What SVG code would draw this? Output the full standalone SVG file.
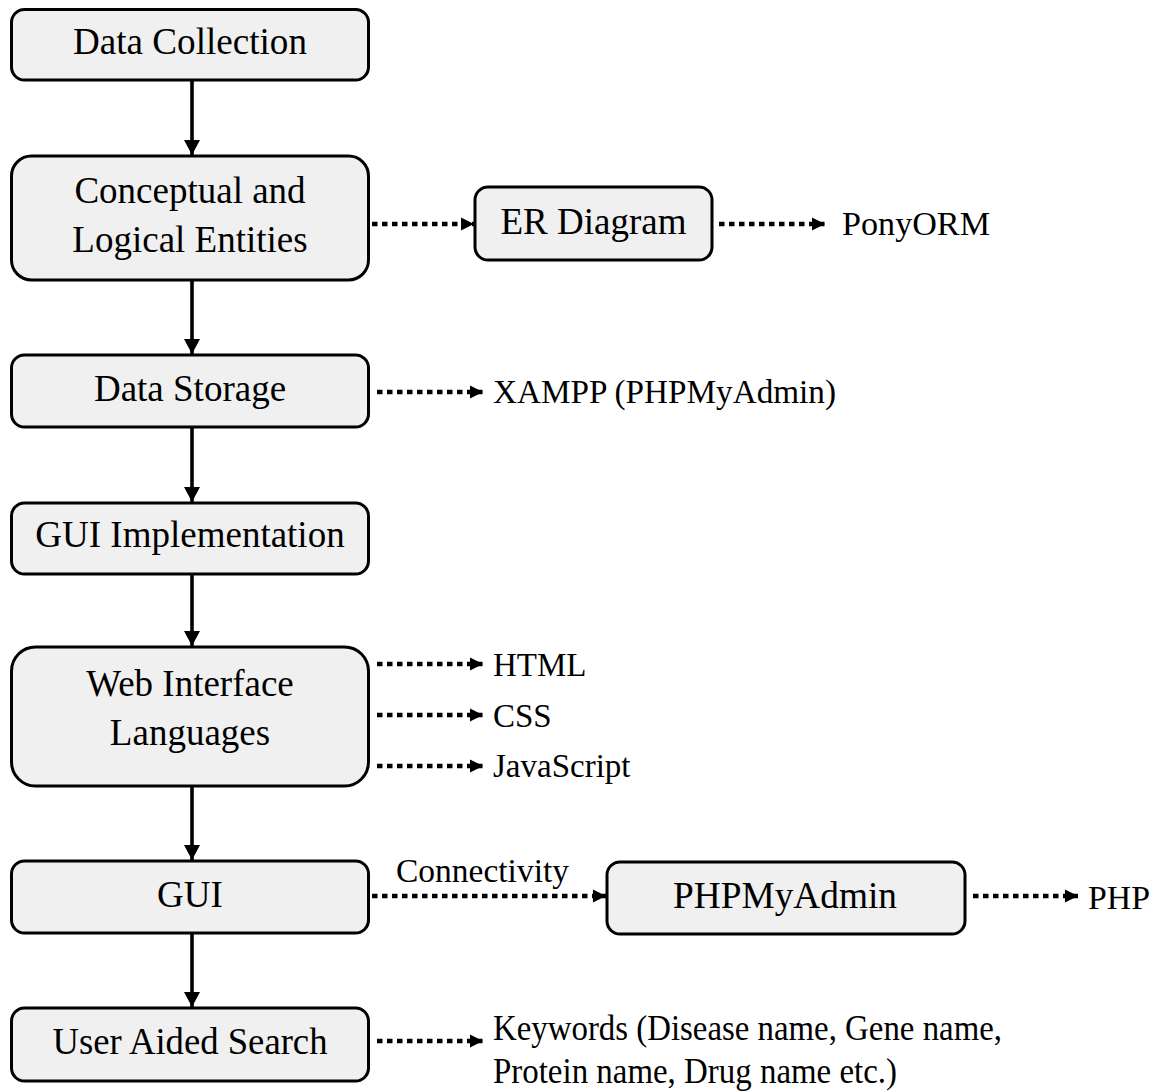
<svg xmlns="http://www.w3.org/2000/svg" width="1158" height="1091" viewBox="0 0 1158 1091">
  <style>
    .box { fill: #f0f0f0; stroke: #000; stroke-width: 3; }
    .t { font-family: "Liberation Serif", "Times New Roman", serif; fill: #000; }
    .bt { font-size: 37px; text-anchor: middle; }
    .st { font-size: 33px; }
    .solid { stroke: #000; stroke-width: 3.6; fill: none; marker-end: url(#headSolid); }
    .dot { stroke: #000; stroke-width: 4.6; stroke-dasharray: 5.5 4.5; fill: none; marker-end: url(#headDot); }
  </style>
  <defs>
    <marker id="headSolid" markerUnits="userSpaceOnUse" markerWidth="17" markerHeight="18" refX="15" refY="9" orient="auto">
      <path d="M0,1 L15,9 L0,17 z" fill="#000"/>
    </marker>
    <marker id="headDot" markerUnits="userSpaceOnUse" markerWidth="15" markerHeight="16" refX="13" refY="8" orient="auto">
      <path d="M0,1.5 L13,8 L0,14.5 z" fill="#000"/>
    </marker>
  </defs>

  <rect width="1158" height="1091" fill="#fff"/>

  <!-- connectors -->
  <g id="connectors">
    <line class="solid" x1="192" y1="81" x2="192" y2="155"/>
    <line class="solid" x1="192" y1="281" x2="192" y2="354"/>
    <line class="solid" x1="192" y1="428" x2="192" y2="502"/>
    <line class="solid" x1="192" y1="575" x2="192" y2="646"/>
    <line class="solid" x1="192" y1="787" x2="192" y2="860"/>
    <line class="solid" x1="192" y1="934" x2="192" y2="1007"/>

    <line class="dot" x1="372" y1="224" x2="474" y2="224"/>
    <line class="dot" x1="719" y1="224" x2="825" y2="224"/>
    <line class="dot" x1="377" y1="392" x2="483" y2="392"/>
    <line class="dot" x1="377" y1="664" x2="483" y2="664"/>
    <line class="dot" x1="377" y1="715" x2="483" y2="715"/>
    <line class="dot" x1="377" y1="766" x2="483" y2="766"/>
    <line class="dot" x1="372" y1="896" x2="606" y2="896"/>
    <line class="dot" x1="973" y1="896" x2="1078" y2="896"/>
    <line class="dot" x1="377" y1="1041" x2="483" y2="1041"/>
    <text class="t st" x="396" y="882" textLength="173" lengthAdjust="spacingAndGlyphs">Connectivity</text>
  </g>

  <g id="data-collection">
    <rect class="box" x="11.5" y="9.5" width="357" height="70.5" rx="13"/>
    <text class="t bt" x="190" y="54" textLength="234" lengthAdjust="spacingAndGlyphs">Data Collection</text>
  </g>

  <g id="conceptual-logical">
    <rect class="box" x="11.5" y="156" width="357" height="124" rx="20"/>
    <text class="t bt" x="190" y="203">Conceptual and</text>
    <text class="t bt" x="190" y="252">Logical Entities</text>
  </g>

  <g id="er-diagram">
    <rect class="box" x="475" y="187" width="237" height="73" rx="13"/>
    <text class="t bt" x="593.5" y="234">ER Diagram</text>
  </g>

  <g id="ponyorm">
    <text class="t st" x="842" y="235" textLength="148" lengthAdjust="spacingAndGlyphs">PonyORM</text>
  </g>

  <g id="data-storage">
    <rect class="box" x="11.5" y="355" width="357" height="72" rx="13"/>
    <text class="t bt" x="190" y="401">Data Storage</text>
  </g>

  <g id="xampp">
    <text class="t st" x="493" y="403" textLength="343" lengthAdjust="spacingAndGlyphs">XAMPP (PHPMyAdmin)</text>
  </g>

  <g id="gui-implementation">
    <rect class="box" x="11.5" y="503" width="357" height="71" rx="13"/>
    <text class="t bt" x="190" y="547">GUI Implementation</text>
  </g>

  <g id="web-interface">
    <rect class="box" x="11.5" y="647" width="357" height="139" rx="24"/>
    <text class="t bt" x="190" y="696">Web Interface</text>
    <text class="t bt" x="190" y="745">Languages</text>
  </g>

  <g id="html"><text class="t st" x="493" y="676">HTML</text></g>
  <g id="css"><text class="t st" x="493" y="727">CSS</text></g>
  <g id="javascript"><text class="t st" x="493" y="777">JavaScript</text></g>

  <g id="gui">
    <rect class="box" x="11.5" y="861" width="357" height="72" rx="13"/>
    <text class="t bt" x="190" y="907">GUI</text>
  </g>

  <g id="phpmyadmin">
    <rect class="box" x="607" y="862" width="358" height="72" rx="13"/>
    <text class="t bt" x="785" y="908" textLength="224" lengthAdjust="spacingAndGlyphs">PHPMyAdmin</text>
  </g>

  <g id="php">
    <text class="t st" x="1088" y="909" textLength="62" lengthAdjust="spacingAndGlyphs">PHP</text>
  </g>

  <g id="user-aided-search">
    <rect class="box" x="11.5" y="1008" width="357" height="73" rx="13"/>
    <text class="t bt" x="190" y="1054" textLength="275" lengthAdjust="spacingAndGlyphs">User Aided Search</text>
  </g>

  <g id="keywords">
    <text class="t" font-size="35" x="493" y="1040" textLength="509" lengthAdjust="spacingAndGlyphs">Keywords (Disease name, Gene name,</text>
    <text class="t" font-size="35" x="493" y="1083" textLength="404" lengthAdjust="spacingAndGlyphs">Protein name, Drug name etc.)</text>
  </g>
</svg>
